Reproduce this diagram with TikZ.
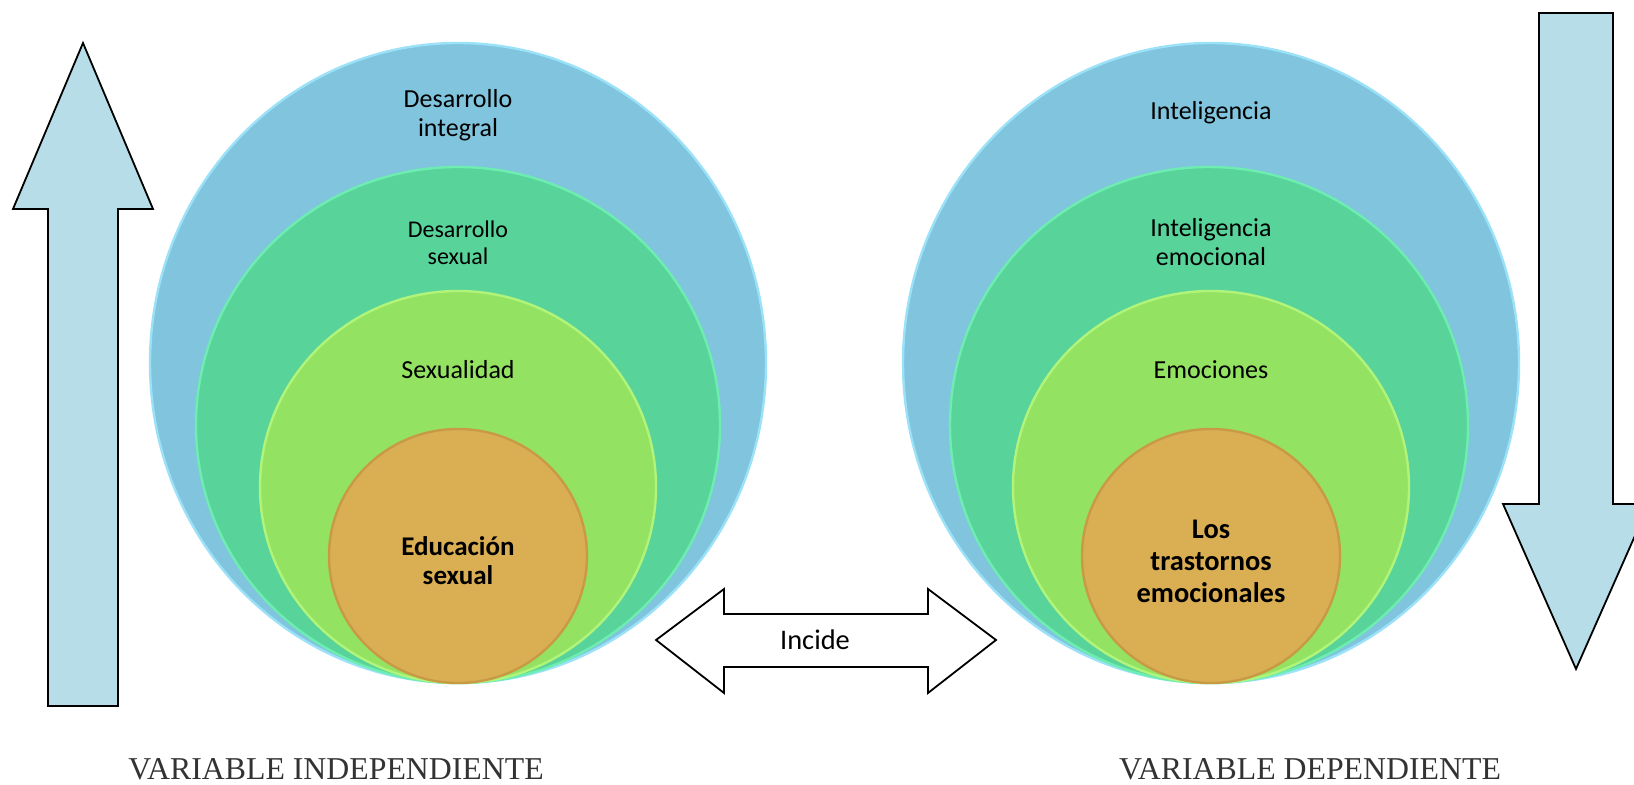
\documentclass[tikz,border=0pt]{standalone}
\usepackage{fontspec}
\setmainfont{Liberation Serif}
\newfontfamily\calfont{Carlito}
\usetikzlibrary{shapes.geometric}
\definecolor{arrowblue}{HTML}{B7DEE8}
\definecolor{cblue}{HTML}{80C4DE}
\definecolor{cbluerim}{HTML}{9BE2F8}
\definecolor{cgreen}{HTML}{58D39A}
\definecolor{cgreenrim}{HTML}{6EEDB0}
\definecolor{clgreen}{HTML}{94E262}
\definecolor{clgreenrim}{HTML}{B0F57A}
\definecolor{corange}{HTML}{DAAE52}
\definecolor{corangerim}{HTML}{C99A45}
\definecolor{labelgray}{HTML}{333333}
\tikzset{
  arrowshape/.style={fill=arrowblue, draw=black, line width=0.9pt, line join=miter},
  dblarrow/.style={fill=white, draw=black, line width=0.9pt, line join=miter},
  disc/.style={ellipse, inner sep=0pt, line width=1.2pt},
  bluedisc/.style={disc, fill=cblue, draw=cbluerim},
  greendisc/.style={disc, fill=cgreen, draw=cgreenrim},
  lgreendisc/.style={disc, fill=clgreen, draw=clgreenrim},
  orangedisc/.style={disc, fill=corange, draw=corangerim},
  ringtext/.style={font=\calfont\fontsize{13}{14.5}\selectfont, align=center, inner sep=0pt, text=black},
  smalltext/.style={font=\calfont\fontsize{12}{13.5}\selectfont, align=center, inner sep=0pt, text=black},
  boldtext/.style={font=\calfont\bfseries\fontsize{13.5}{14.5}\selectfont, align=center, inner sep=0pt, text=black},
  boldtextR/.style={font=\calfont\bfseries\fontsize{14.2}{16}\selectfont, align=center, inner sep=0pt, text=black},
  varlabel/.style={font=\fontsize{15.9}{18}\selectfont, text=labelgray, inner sep=0pt, anchor=base}
}
\begin{document}
\begin{tikzpicture}[x=0.5pt,y=-0.5pt]
\useasboundingbox (0,0) rectangle (1634,785);
\clip (0,0) rectangle (1634,785);

% left up arrow
\draw[arrowshape] (83,43) -- (153,209) -- (118,209) -- (118,706) -- (48,706) -- (48,209) -- (13,209) -- cycle;
% right down arrow
\draw[arrowshape] (1539,13) -- (1613,13) -- (1613,504) -- (1649,504) -- (1576,669) -- (1503,504) -- (1539,504) -- cycle;

% left group
\node[bluedisc, minimum width=308pt, minimum height=320pt] (lb) at (458,363) {};
\node[greendisc, minimum width=262pt, minimum height=258pt] (lg) at (458,425) {};
\node[lgreendisc, minimum width=198pt, minimum height=196pt] (ll) at (458,487) {};
\node[orangedisc, minimum width=129pt, minimum height=127pt] (lo) at (458,556) {};
\node[ringtext] (t1) at (458,115) {Desarrollo\\integral};
\node[smalltext] (t2) at (458,243) {Desarrollo\\sexual};
\node[ringtext] (t3) at (458,370) {Sexualidad};
\node[boldtext] (t4) at (458,561) {Educación\\sexual};

% right group
\node[bluedisc, minimum width=308pt, minimum height=320pt] (rb) at (1211,363) {};
\node[greendisc, minimum width=259pt, minimum height=258pt] (rg) at (1209,425) {};
\node[lgreendisc, minimum width=198pt, minimum height=196pt] (rl) at (1211,487) {};
\node[orangedisc, minimum width=129pt, minimum height=127pt] (ro) at (1211,556) {};
\node[ringtext] (u1) at (1211,113) {Inteligencia};
\node[ringtext] (u2) at (1211,242) {Inteligencia\\emocional};
\node[ringtext] (u3) at (1211,370) {Emociones};
\node[boldtextR] (u4) at (1211,561) {Los\\trastornos\\emocionales};

% double arrow
\draw[dblarrow] (656,640) -- (724,589) -- (724,614) -- (928,614) -- (928,589) -- (996,640) -- (928,693) -- (928,667) -- (724,667) -- (724,693) -- cycle;
\node[font=\calfont\fontsize{14.2}{16}\selectfont, inner sep=0pt] (inc) at (815,640) {Incide};

% labels
\node[varlabel] (vi) at (336,780) {VARIABLE INDEPENDIENTE};
\node[varlabel] (vd) at (1310,780) {VARIABLE DEPENDIENTE};
\end{tikzpicture}
\end{document}
